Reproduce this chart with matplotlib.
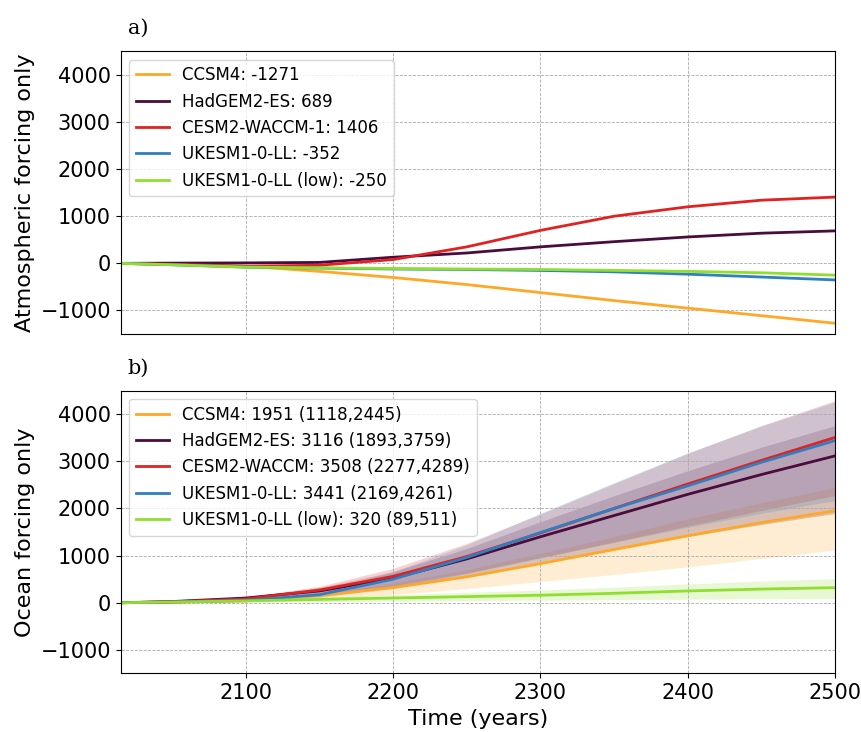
import matplotlib
matplotlib.use("Agg")
import matplotlib.pyplot as plt
import numpy as np

years = [2015, 2050, 2100, 2150, 2200, 2250, 2300, 2350, 2400, 2450, 2500]

# panel a) atmospheric forcing
atm_ccsm4 = [0, -20, -60, -170, -300, -450, -620, -790, -950, -1110, -1271]
atm_hadgem = [0, 5, 10, 20, 130, 220, 350, 460, 560, 640, 689]
atm_cesm2 = [0, -20, -60, -40, 80, 350, 700, 1000, 1200, 1340, 1406]
atm_ukesm = [0, -30, -80, -100, -120, -130, -150, -180, -230, -290, -352]
atm_ukesm_low = [0, -30, -80, -95, -110, -120, -130, -150, -170, -200, -250]

# panel b) ocean forcing: median, low, high
oc_ccsm4 = [0, 10, 40, 150, 320, 550, 830, 1130, 1420, 1700, 1951]
oc_ccsm4_lo = [0, 5, 20, 80, 170, 300, 450, 600, 760, 940, 1118]
oc_ccsm4_hi = [0, 12, 50, 190, 420, 700, 1050, 1400, 1780, 2120, 2445]
oc_hadgem = [0, 25, 100, 250, 520, 930, 1400, 1850, 2300, 2720, 3116]
oc_hadgem_lo = [0, 15, 60, 160, 330, 580, 870, 1150, 1410, 1660, 1893]
oc_hadgem_hi = [0, 30, 130, 320, 660, 1150, 1720, 2270, 2800, 3300, 3759]
oc_cesm2 = [0, 20, 80, 270, 560, 980, 1480, 2000, 2520, 3020, 3508]
oc_cesm2_lo = [0, 15, 50, 170, 360, 630, 960, 1290, 1630, 1960, 2277]
oc_cesm2_hi = [0, 25, 110, 350, 730, 1260, 1880, 2530, 3170, 3760, 4289]
oc_ukesm = [0, 15, 50, 170, 500, 960, 1490, 2000, 2480, 2980, 3441]
oc_ukesm_lo = [0, 10, 30, 110, 320, 620, 950, 1280, 1600, 1900, 2169]
oc_ukesm_hi = [0, 20, 70, 230, 660, 1230, 1900, 2550, 3180, 3750, 4261]
oc_low = [0, 15, 40, 70, 100, 130, 160, 200, 250, 290, 320]
oc_low_lo = [0, 5, 15, 25, 35, 45, 55, 65, 75, 82, 89]
oc_low_hi = [0, 25, 70, 120, 170, 220, 270, 330, 400, 460, 511]

colors = ["#ffa726", "#4a0c3c", "#e02222", "#2f7fc1", "#8fe02e"]

plt.rcParams.update({'font.size': 15})
fig, (ax1, ax2) = plt.subplots(2, 1, figsize=(8.61, 7.32), dpi=100, sharex=True)
fig.subplots_adjust(left=0.14, right=0.97, top=0.93, bottom=0.08, hspace=0.2)

atm = [atm_ccsm4, atm_hadgem, atm_cesm2, atm_ukesm, atm_ukesm_low]
atm_labels = ["CCSM4: -1271", "HadGEM2-ES: 689", "CESM2-WACCM-1: 1406",
              "UKESM1-0-LL: -352", "UKESM1-0-LL (low): -250"]
for vals, c, lab in zip(atm, colors, atm_labels):
    ax1.plot(years, vals, color=c, lw=2, label=lab)

oc = [(oc_ccsm4, oc_ccsm4_lo, oc_ccsm4_hi), (oc_hadgem, oc_hadgem_lo, oc_hadgem_hi),
      (oc_cesm2, oc_cesm2_lo, oc_cesm2_hi), (oc_ukesm, oc_ukesm_lo, oc_ukesm_hi),
      (oc_low, oc_low_lo, oc_low_hi)]
oc_labels = ["CCSM4: 1951 (1118,2445)", "HadGEM2-ES: 3116 (1893,3759)",
             "CESM2-WACCM: 3508 (2277,4289)", "UKESM1-0-LL: 3441 (2169,4261)",
             "UKESM1-0-LL (low): 320 (89,511)"]
for (m, lo, hi), c, lab in zip(oc, colors, oc_labels):
    ax2.fill_between(years, lo, hi, color=c, alpha=0.2, lw=0)
    ax2.plot(years, m, color=c, lw=2, label=lab)

for ax, lab in [(ax1, "Atmospheric forcing only"), (ax2, "Ocean forcing only")]:
    ax.set_xlim(2015, 2500)
    ax.set_ylim(-1500, 4500)
    ax.set_yticks([-1000, 0, 1000, 2000, 3000, 4000])
    ax.grid(True, ls='--', lw=0.6, color='#aaaaaa')
    ax.set_ylabel(lab, fontsize=16)
    ax.legend(loc='upper left', fontsize=12)
ax1.tick_params(axis='x', labelbottom=False, length=0)
ax2.set_xticks([2100, 2200, 2300, 2400, 2500])
ax2.set_xlabel("Time (years)", fontsize=16)

ax1.text(0.01, 1.06, "a)", transform=ax1.transAxes, family='serif', fontsize=15)
ax2.text(0.01, 1.06, "b)", transform=ax2.transAxes, family='serif', fontsize=15)

fig.savefig("out.png")
